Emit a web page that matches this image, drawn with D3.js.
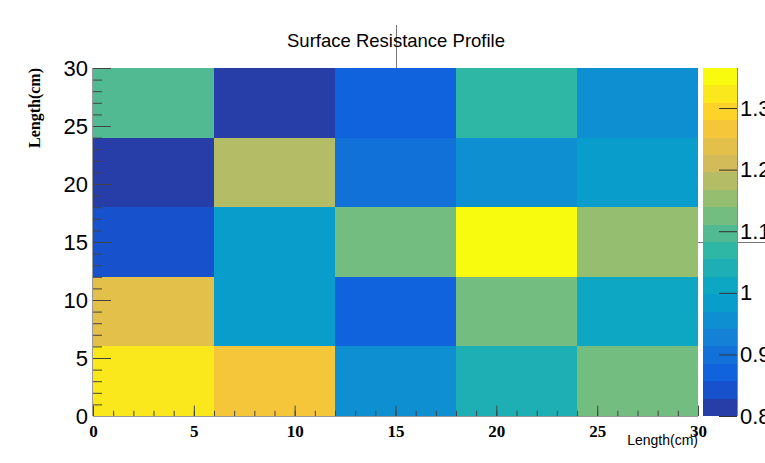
<!DOCTYPE html>
<html>
<head>
<meta charset="utf-8">
<script src="https://cdn.jsdelivr.net/npm/d3@7"></script>
<style>
  html, body { margin: 0; padding: 0; background: #fff; }
  svg { display: block; }
</style>
</head>
<body>
<svg id="chart" width="765" height="463"></svg>
<script>
// Bin edges along both axes (cm)
const xBinEdges = [0, 6, 12, 18, 24, 30];
const yBinEdges = [0, 6, 12, 18, 24, 30];

// Surface resistance per bin, one row per y bin (bottom row first)
const rowY0  = [1.322, 1.266, 0.955, 1.040, 1.125];
const rowY6  = [1.238, 0.984, 0.871, 1.125, 1.012];
const rowY12 = [0.842, 0.984, 1.125, 1.365, 1.153];
const rowY18 = [0.800, 1.181, 0.899, 0.955, 0.984];
const rowY24 = [1.097, 0.810, 0.871, 1.068, 0.955];
const resistance = [rowY0, rowY6, rowY12, rowY18, rowY24];

// Axis tick values and labels
const axisMajorTicks = [0, 5, 10, 15, 20, 25, 30];
const axisMinorTicks = d3.range(0, 31, 1);
const zTickValues = [0.8, 0.9, 1.0, 1.1, 1.2, 1.3];
const zTickLabels = ["0.8", "0.9", "1", "1.1", "1.2", "1.3"];

const titleText = "Surface Resistance Profile";
const xTitle = "Length(cm)";
const yTitle = "Length(cm)";

// "Bird" gradient stops
const birdStops = [0, 0.125, 0.25, 0.375, 0.5, 0.625, 0.75, 0.875, 1];
const birdR = [0.2082, 0.0592, 0.0780, 0.0232, 0.1802, 0.5301, 0.8186, 0.9956, 0.9764];
const birdG = [0.1664, 0.3599, 0.5041, 0.6419, 0.7178, 0.7492, 0.7328, 0.7862, 0.9832];
const birdB = [0.5293, 0.8684, 0.8385, 0.7914, 0.6425, 0.4662, 0.3499, 0.1968, 0.0539];

const nContours = 20;
const nPalette = 255;

const bird = d3.scaleLinear()
  .domain(birdStops)
  .range(birdStops.map((_, i) => d3.rgb(birdR[i] * 255, birdG[i] * 255, birdB[i] * 255).toString()))
  .interpolate(d3.interpolateRgb);

const svg = d3.select("#chart");

// Frame geometry
const frame = { left: 93, right: 698, top: 68, bottom: 416 };
const bar = { left: 703, right: 737 };

const x = d3.scaleLinear().domain([0, 30]).range([frame.left, frame.right]);
const y = d3.scaleLinear().domain([0, 30]).range([frame.bottom, frame.top]);

const allValues = resistance.flat();
const [zMin, zMax] = d3.extent(allValues);
const z = d3.scaleLinear().domain([zMin, zMax]).range([frame.bottom, frame.top]);

// Contour-level colour lookup
function levelOf(v) {
  return Math.max(0, Math.min(nContours - 1, Math.floor(0.01 + (v - zMin) * nContours / (zMax - zMin))));
}
function levelColor(level) {
  const idx = Math.min(nPalette - 1, Math.floor((level + 0.99) * nPalette / nContours));
  return bird(idx / (nPalette - 1));
}

// Stray guide lines
svg.append("line")
  .attr("x1", 396.5).attr("x2", 396.5).attr("y1", 25).attr("y2", frame.top)
  .attr("stroke", "#777").attr("stroke-width", 1);
svg.append("line")
  .attr("x1", 696).attr("x2", 765).attr("y1", 242.5).attr("y2", 242.5)
  .attr("stroke", "#777").attr("stroke-width", 1);

// Heat map cells
const cells = [];
resistance.forEach((row, j) => row.forEach((v, i) => cells.push({ i, j, v })));

svg.append("g").selectAll("rect")
  .data(cells)
  .join("rect")
  .attr("x", d => x(xBinEdges[d.i]))
  .attr("y", d => y(yBinEdges[d.j + 1]))
  .attr("width", d => x(xBinEdges[d.i + 1]) - x(xBinEdges[d.i]))
  .attr("height", d => y(yBinEdges[d.j]) - y(yBinEdges[d.j + 1]))
  .attr("fill", d => levelColor(levelOf(d.v)))
  .attr("shape-rendering", "crispEdges");

// Colour bar
const levels = d3.range(nContours);
const step = (zMax - zMin) / nContours;
svg.append("g").selectAll("rect")
  .data(levels)
  .join("rect")
  .attr("x", bar.left)
  .attr("width", bar.right - bar.left)
  .attr("y", d => z(zMin + (d + 1) * step))
  .attr("height", d => z(zMin + d * step) - z(zMin + (d + 1) * step))
  .attr("fill", d => levelColor(d))
  .attr("shape-rendering", "crispEdges");

const zAxis = d3.axisRight(z)
  .tickValues(zTickValues)
  .tickFormat((d, i) => zTickLabels[i])
  .tickSize(-18)
  .tickPadding(3);
const zG = svg.append("g").attr("transform", `translate(${bar.right},0)`).call(zAxis);
zG.select(".domain").remove();
zG.selectAll("line").attr("stroke", "#333");
zG.selectAll("text")
  .attr("font-family", "'Liberation Sans', Arial, sans-serif")
  .attr("font-size", 22).attr("fill", "#000");
svg.append("line")
  .attr("x1", bar.right + 0.5).attr("x2", bar.right + 0.5)
  .attr("y1", frame.top).attr("y2", frame.bottom)
  .attr("stroke", "#888");

// X axis: minor then major ticks, pointing inward
const xMinor = svg.append("g").attr("transform", `translate(0,${frame.bottom})`)
  .call(d3.axisBottom(x).tickValues(axisMinorTicks).tickSize(-5.2).tickFormat(""));
xMinor.select(".domain").remove();
xMinor.selectAll("line").attr("stroke", "#444");

const xMajor = svg.append("g").attr("transform", `translate(0,${frame.bottom})`)
  .call(d3.axisBottom(x).tickValues(axisMajorTicks).tickSize(-10.4).tickPadding(9).tickFormat(d3.format("d")));
xMajor.select(".domain").remove();
xMajor.selectAll("line").attr("stroke", "#444");
xMajor.selectAll("text")
  .attr("font-family", "'Liberation Serif', 'Times New Roman', serif")
  .attr("font-weight", "bold")
  .attr("font-size", 17).attr("fill", "#000");

// Y axis
const yMinor = svg.append("g").attr("transform", `translate(${frame.left},0)`)
  .call(d3.axisLeft(y).tickValues(axisMinorTicks).tickSize(-9).tickFormat(""));
yMinor.select(".domain").remove();
yMinor.selectAll("line").attr("stroke", "#444");

const yMajor = svg.append("g").attr("transform", `translate(${frame.left},0)`)
  .call(d3.axisLeft(y).tickValues(axisMajorTicks).tickSize(-18).tickPadding(5).tickFormat(d3.format("d")));
yMajor.select(".domain").remove();
yMajor.selectAll("line").attr("stroke", "#444");
yMajor.selectAll("text")
  .attr("font-family", "'Liberation Sans', Arial, sans-serif")
  .attr("font-size", 22).attr("fill", "#000");

// Frame edges along the axes
svg.append("line")
  .attr("x1", frame.left - 0.5).attr("x2", frame.left - 0.5)
  .attr("y1", frame.top).attr("y2", frame.bottom)
  .attr("stroke", "#999");
svg.append("line")
  .attr("x1", frame.left).attr("x2", frame.right)
  .attr("y1", frame.bottom + 0.5).attr("y2", frame.bottom + 0.5)
  .attr("stroke", "#999");

// Titles
svg.append("text")
  .attr("x", 396).attr("y", 47)
  .attr("text-anchor", "middle")
  .attr("font-family", "'Liberation Sans', Arial, sans-serif")
  .attr("font-size", 18.5).attr("fill", "#000")
  .text(titleText);

svg.append("text")
  .attr("x", frame.right).attr("y", 445)
  .attr("text-anchor", "end")
  .attr("font-family", "'Liberation Sans', Arial, sans-serif")
  .attr("font-size", 14).attr("fill", "#000")
  .text(xTitle);

svg.append("text")
  .attr("transform", `translate(40,${frame.top}) rotate(-90)`)
  .attr("text-anchor", "end")
  .attr("font-family", "'Liberation Serif', 'Times New Roman', serif")
  .attr("font-weight", "bold")
  .attr("font-size", 16).attr("fill", "#000")
  .text(yTitle);
</script>
</body>
</html>
